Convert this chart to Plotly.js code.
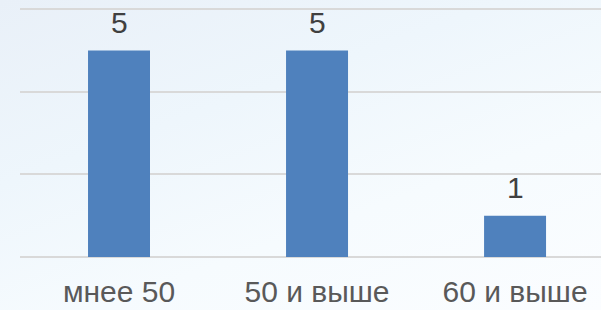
<!DOCTYPE html>
<html>
<head>
<meta charset="utf-8">
<script src="https://cdn.plot.ly/plotly-3.0.1.min.js"></script>
<style>
html,body{margin:0;padding:0;overflow:hidden;}
body{width:601px;height:310px;background:linear-gradient(160deg,#e9f0f8 0%,#eef6fc 35%,#f6fbfe 65%,#fbfdff 100%);}
#chart{width:601px;height:310px;}
</style>
</head>
<body>
<div id="chart"></div>
<script>
var categories = ["мнее 50", "50 и выше", "60 и выше"];
var values = [5, 5, 1];
var yTicks = [0, 2, 4, 6];

var trace = {
  type: "bar",
  x: categories,
  y: values,
  marker: {color: "#4f81bd"},
  hoverinfo: "none"
};

var annotations = categories.map(function(c, i){
  return {
    x: c, y: values[i], text: String(values[i]),
    xref: "x", yref: "y", showarrow: false,
    yanchor: "bottom", yshift: 10,
    font: {family: "Liberation Sans, Arial, sans-serif", size: 30, color: "#404040"}
  };
});

var layout = {
  width: 601, height: 310,
  margin: {l: 20, r: 0, t: 8, b: 53},
  paper_bgcolor: "rgba(0,0,0,0)",
  plot_bgcolor: "rgba(0,0,0,0)",
  showlegend: false,
  bargap: 0.687,
  xaxis: {
    type: "category",
    range: [-0.5, 2.434],
    showgrid: false, showline: false, zeroline: false,
    ticks: "", ticklabelstandoff: 14,
    tickfont: {family: "Liberation Sans, Arial, sans-serif", size: 30, color: "#595959"}
  },
  yaxis: {
    range: [0, 6.03],
    tickvals: yTicks,
    showticklabels: false,
    showgrid: true, gridcolor: "#d9d9d9", gridwidth: 2,
    zeroline: true, zerolinecolor: "#d9d9d9", zerolinewidth: 2,
    showline: false
  },
  annotations: annotations
};

Plotly.newPlot("chart", [trace], layout, {displayModeBar: false, staticPlot: true});
</script>
</body>
</html>
